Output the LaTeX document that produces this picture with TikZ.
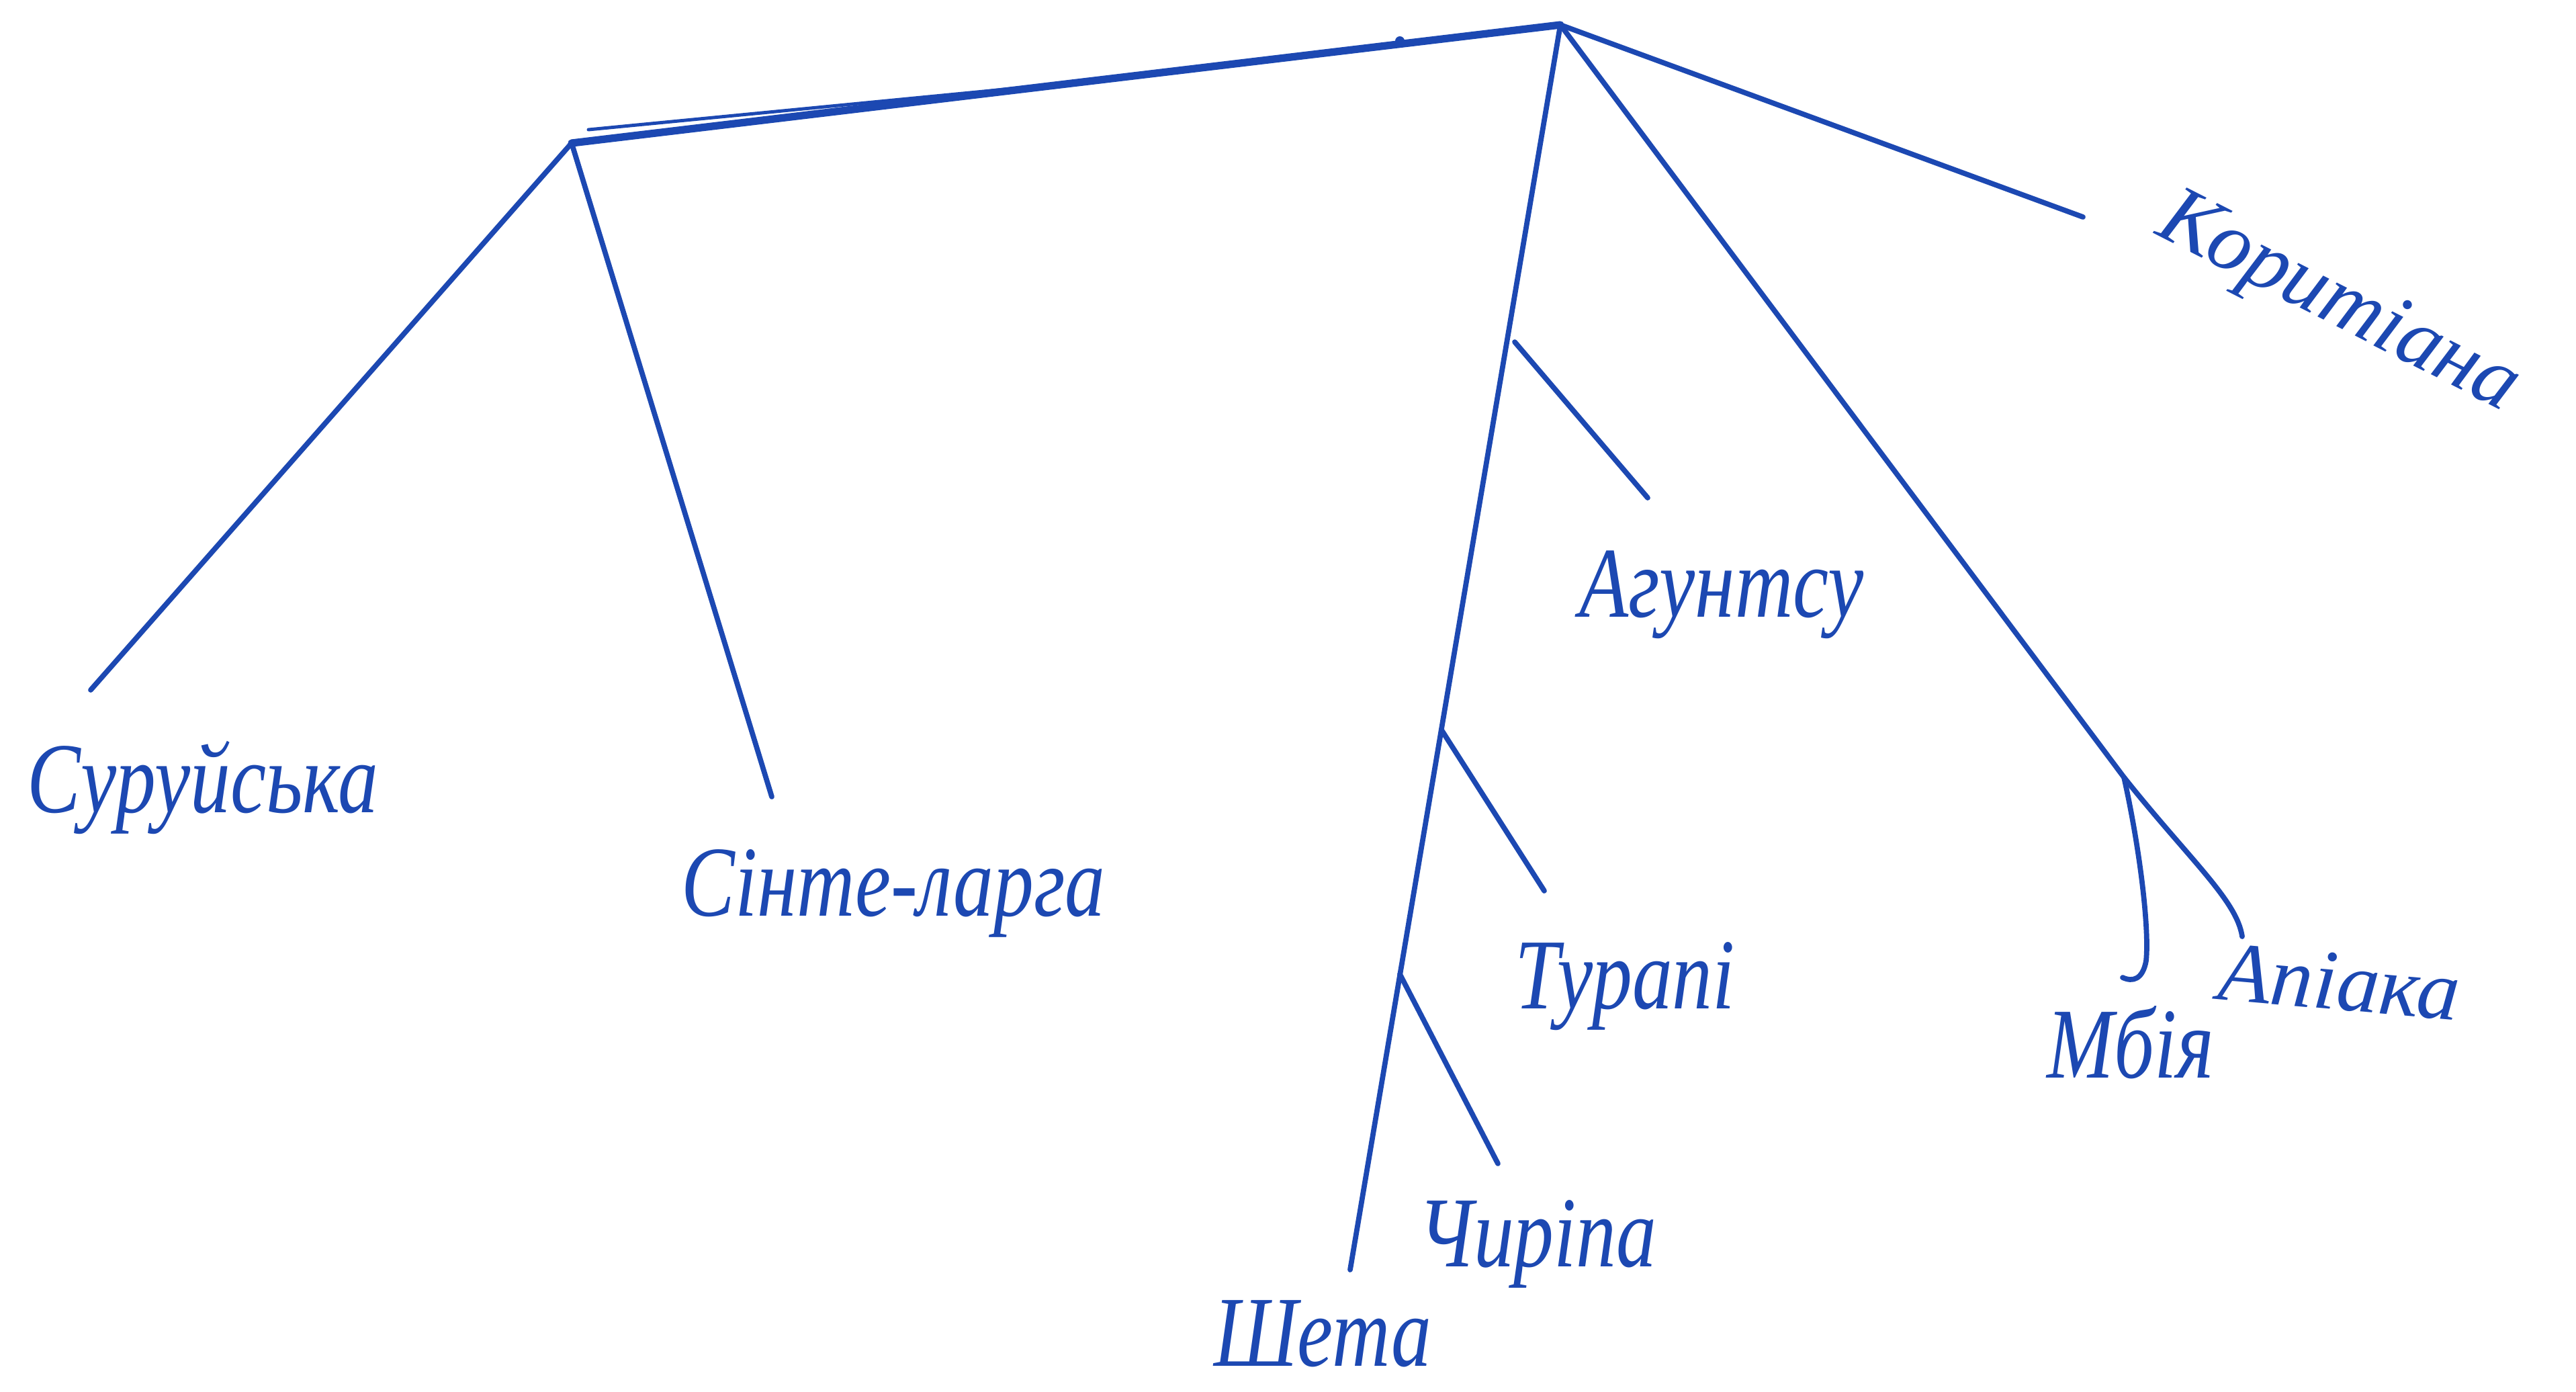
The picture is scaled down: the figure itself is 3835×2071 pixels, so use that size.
\documentclass[tikz,border=0pt]{standalone}
\usepackage{fontspec}
\setmainfont{Liberation Serif}
\definecolor{ink}{RGB}{28,72,178}
\begin{document}
\begin{tikzpicture}[x=0.01cm,y=-0.01cm,
  edge/.style={draw=ink,line width=2.2pt,line cap=round},
  thickedge/.style={draw=ink,line width=3.2pt,line cap=round},
  lbl/.style={text=ink,font=\fontsize{34}{40}\selectfont\itshape,inner sep=0pt,yscale=1.25},
  rlbl/.style={text=ink,font=\fontsize{36}{42}\selectfont\itshape,inner sep=0pt}]
\useasboundingbox (0,0) rectangle (3835,2071);
\fill[white] (0,0) rectangle (3835,2071);
% internal points
\coordinate (root) at (2323,37);
\coordinate (L) at (851,213);
\coordinate (M) at (3162,1157);
\coordinate (dbl1) at (876,193);
\coordinate (dbl2) at (1712,112);
% free ends
\coordinate (surE) at (135,1027);
\coordinate (sinE) at (1149,1186);
\coordinate (korE) at (3101,323);
\coordinate (shE) at (2010,1890);
\coordinate (aguS) at (2255,509);
\coordinate (aguE) at (2453,741);
\coordinate (turS) at (2147,1088);
\coordinate (turE) at (2299,1326);
\coordinate (chiS) at (2084,1450);
\coordinate (chiE) at (2230,1732);
\coordinate (mbE) at (3160,1455);
\coordinate (apE) at (3338,1394);
% labels
\node[lbl] (sur) at (302,1172) {Суруйська};
\node[lbl] (sin) at (1330,1330) {Сінте-ларга};
\node[rlbl,rotate=-27] (kor) at (3480,455) {Коритіана};
\node[lbl] (agu) at (2563,885) {Агунтсу};
\node[lbl] (tur) at (2419,1468) {Турапі};
\node[lbl] (chi) at (2289,1852) {Чиріпа};
\node[lbl] (she) at (1969,1985) {Шета};
\node[lbl] (mb) at (3172,1552) {Мбія};
\node[rlbl,rotate=-5] (ap) at (3483,1462) {Апіака};
% edges
\draw[thickedge] (L) -- (root);
\draw[edge,line width=1.4pt] (dbl1) -- (dbl2);
\fill[ink] (2084,61) circle (7);
\draw[edge] (L) -- (surE);
\draw[edge] (L) -- (sinE);
\draw[edge] (root) -- (korE);
\draw[edge] (root) -- (shE);
\draw[edge] (root) -- (M);
\draw[edge] (aguS) -- (aguE);
\draw[edge] (turS) -- (turE);
\draw[edge] (chiS) -- (chiE);
\draw[edge] (M) .. controls (3185,1260) and (3200,1380) .. (3195,1430) .. controls (3190,1458) and (3175,1462) .. (mbE);
\draw[edge] (M) .. controls (3260,1280) and (3330,1340) .. (apE);
\end{tikzpicture}
\end{document}
